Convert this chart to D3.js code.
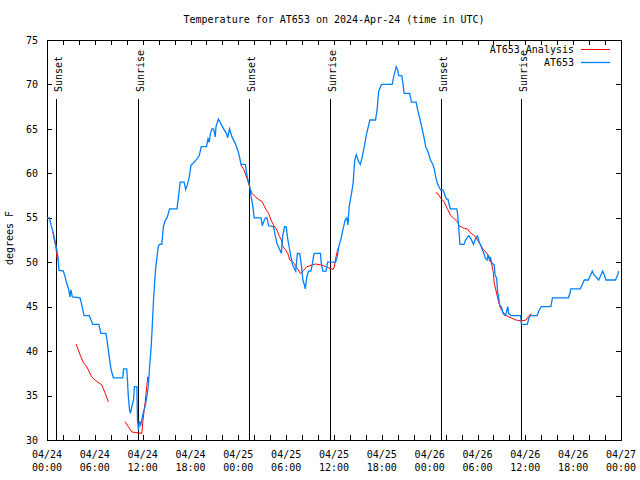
<!DOCTYPE html>
<html>
<head>
<meta charset="utf-8">
<script src="https://cdn.jsdelivr.net/npm/d3@7/dist/d3.min.js"></script>
<style>
  html, body { margin: 0; padding: 0; background: #fff; }
  svg text { font-family: "DejaVu Sans Mono", "Liberation Mono", monospace; font-size: 10px; fill: #000; }
</style>
</head>
<body>
<svg id="chart" width="640" height="480"></svg>
<script>
// ---- data (hours since 2024-04-24 00:00 UTC) ----
const stationHours = [0.0,0.3,0.5,0.7,0.92,1.2,1.4,1.5,2.05,2.26,2.47,2.68,2.89,3.0,3.18,4.15,4.36,4.65,5.3,5.74,6.5,6.75,7.4,7.58,7.8,8.04,8.33,9.5,9.6,10.0,10.1,10.2,10.35,10.47,10.64,10.85,10.97,11.27,11.35,11.47,11.6,11.75,12.1,12.3,12.5,12.7,12.9,13.07,13.2,13.36,13.5,13.6,13.8,13.95,14.1,14.4,14.6,14.8,15.1,15.37,16.3,16.5,16.7,17.2,17.4,17.6,17.85,18.06,18.3,18.8,19.1,19.35,20.0,20.2,20.35,20.5,20.7,20.9,21.1,21.2,21.5,21.8,22.15,22.5,22.65,22.9,23.2,23.6,24.0,24.35,24.9,25.0,25.2,25.4,25.6,25.8,26.0,26.85,27.0,27.2,27.4,27.6,27.8,28.4,28.5,28.65,28.85,29.1,29.4,29.56,29.8,30.0,30.2,30.4,30.6,30.8,31.2,31.4,31.7,31.9,32.1,32.3,32.4,32.6,32.8,33.1,33.3,33.5,34.3,34.4,34.6,35.0,35.2,36.2,36.4,36.6,36.9,37.1,37.4,37.6,37.75,37.9,38.2,38.4,38.6,38.8,39.1,39.3,39.5,39.8,40.05,40.3,40.5,41.2,41.4,41.6,41.9,42.0,43.3,43.5,43.8,44.0,44.1,44.5,44.65,44.8,45.5,45.7,46.3,46.5,46.75,47.0,47.3,47.5,47.8,48.1,48.4,48.6,48.75,48.96,49.2,49.4,49.7,49.9,50.1,50.3,50.4,50.6,51.4,51.5,51.6,51.8,52.3,52.5,52.9,53.2,53.5,53.8,54.0,54.2,54.4,54.6,54.8,55.0,55.2,55.3,55.5,55.6,55.8,56.1,56.2,56.4,56.5,56.7,56.8,57.0,57.2,57.5,57.8,57.9,58.2,59.4,59.5,60.25,60.45,60.6,61.5,61.7,62.0,63.2,63.4,65.4,65.6,65.7,66.9,67.1,67.4,67.9,68.2,68.4,68.6,69.2,69.5,69.7,69.9,70.1,71.3,71.6,71.7];
const stationTemps = [55.0,55.0,54.2,53.6,52.7,51.6,50.4,49.1,49.0,48.4,47.6,47.1,46.1,46.9,46.1,46.0,45.2,44.0,44.0,43.0,43.0,42.0,42.0,40.9,39.4,37.9,37.0,37.0,38.0,38.0,36.6,34.9,33.4,33.0,33.75,34.5,36.0,36.0,32.25,31.1,32.1,31.7,33.2,33.75,34.7,36.0,38.6,40.5,42.75,45.75,47.6,49.1,50.6,51.75,52.0,52.0,54.0,54.6,55.1,56.0,56.0,57.4,59.0,59.0,58.2,58.7,59.6,60.9,61.1,61.6,62.0,63.0,63.0,63.9,63.5,64.5,65.0,65.0,64.1,65.25,66.1,65.6,65.0,64.5,64.0,65.0,64.1,63.4,62.4,61.0,61.0,60.2,59.25,58.7,57.4,56.4,55.0,55.0,54.1,54.6,55.0,55.0,54.1,54.0,53.6,52.9,52.1,51.6,51.0,52.9,54.0,54.0,52.6,51.6,50.6,49.7,49.0,51.0,51.0,49.7,48.0,47.4,47.0,48.4,49.0,49.0,49.9,51.0,51.0,49.9,49.0,49.0,50.0,50.0,50.6,51.75,52.7,53.6,54.75,55.0,54.2,56.25,57.75,58.9,61.5,62.1,61.3,61.0,61.7,63.0,64.3,65.25,66.0,66.0,67.1,69.2,69.9,70.0,70.0,70.9,72.0,71.6,71.0,71.0,70.1,69.0,69.0,68.0,68.0,67.1,66.2,65.25,64.0,63.0,62.4,61.5,61.0,60.4,59.6,58.9,58.4,58.1,58.1,57.55,57.1,57.1,56.6,56.0,56.0,55.5,54.4,52.0,52.0,52.5,53.0,52.6,52.0,52.8,52.95,52.3,51.9,51.4,51.0,50.4,50.25,50.8,50.25,50.6,49.9,49.7,48.6,48.2,46.9,45.75,45.1,45.0,44.25,44.0,45.0,44.25,44.0,44.0,43.0,43.0,43.7,44.0,44.0,44.55,45.0,45.0,46.0,46.0,46.5,47.0,47.0,47.4,48.0,48.0,48.6,49.0,48.6,48.0,48.6,49.0,48.6,48.0,48.0,48.6,49.0];

// analysis series: null marks a gap between segments
const analysisHours = [0.72,0.92,1.1,1.3, null,
  3.64,3.94,4.23,4.56,4.99,5.6,6.24,6.87,7.3,7.7, null,
  9.8,10.2,10.64,11.05,11.47,11.9,12.0,12.2,12.35,12.5,12.65,12.73, null,
  24.3,24.7,25.1,25.4,25.7,26.1,26.5,27.0,27.2,27.5,27.8,28.1,28.4,28.85,29.15,29.4,29.6,29.9,30.2,30.45,30.75,30.95,31.4,31.8,32.2,32.6,33.3,33.7,34.3,34.7,35.2,35.5,35.9,36.05,36.2,36.4,36.6, null,
  48.75,49.0,49.4,49.8,50.2,50.6,51.0,51.5,51.7,52.1,52.4,52.8,53.0,53.5,53.8,54.07,54.4,54.75,55.0,55.35,55.6,55.8,56.0,56.1,56.3,56.5,56.7,56.9,57.3,57.7,58.2,58.8,59.5,60.1,60.4,60.6,60.8];
const analysisTemps = [53.4,52.5,51.75,50.25, null,
  40.8,40.1,39.4,38.7,38.25,37.1,36.6,36.2,35.25,34.3, null,
  32.05,31.5,30.9,30.85,30.8,30.75,31.9,33.4,34.5,36.0,37.1,36.6, null,
  61.0,60.4,59.4,58.5,57.75,57.4,57.1,56.8,56.4,55.9,55.5,54.75,54.2,53.6,52.9,52.5,51.75,51.4,51.0,50.25,50.1,49.9,49.3,48.7,49.1,49.5,49.7,49.8,49.7,49.6,49.4,49.3,49.2,49.5,50.4,51.2,51.75, null,
  57.8,57.75,57.2,56.8,56.05,55.3,54.95,54.55,54.1,53.9,53.8,53.7,53.4,53.05,52.8,52.4,51.9,51.4,51.2,50.8,50.25,49.7,48.75,47.6,46.9,46.1,45.4,44.8,44.25,43.95,43.75,43.5,43.4,43.5,43.9,44.1,44.2];

const sunsetHours = [1.17, 25.32, 49.4];
const sunriseHours = [11.47, 35.5, 59.5];

const yTicks = [30, 35, 40, 45, 50, 55, 60, 65, 70, 75];
const xTickHours = d3.range(0, 73, 2);
const titleText = "Temperature for AT653 on 2024-Apr-24 (time in UTC)";
const yLabelText = "degrees F";
const seriesNames = ["AT653 Analysis", "AT653"];
const seriesColors = ["#ff0000", "#0080ff"];

// ---- chart ----
const start = Date.UTC(2024, 3, 24);
const toDate = h => new Date(start + h * 3600e3);
const L = 47, R = 621, T = 40, B = 440;

const svg = d3.select("#chart");
const x = d3.scaleUtc().domain([toDate(0), toDate(72)]).range([L, R]);
const y = d3.scaleLinear().domain([30, 75]).range([B, T]);

const fmtDate = d3.utcFormat("%m/%d");
const fmtTime = d3.utcFormat("%H:%M");
const xTicks = xTickHours.map(toDate);

const axBottom = svg.append("g").attr("transform", `translate(0,${B})`)
  .call(d3.axisBottom(x).tickValues(xTicks).tickSize(-5).tickFormat(""));
const axTop = svg.append("g").attr("transform", `translate(0,${T})`)
  .call(d3.axisTop(x).tickValues(xTicks).tickSize(-5).tickFormat(""));
const axLeft = svg.append("g").attr("transform", `translate(${L},0)`)
  .call(d3.axisLeft(y).tickValues(yTicks).tickSize(-5).tickPadding(9).tickFormat(d3.format("d")));
const axRight = svg.append("g").attr("transform", `translate(${R},0)`)
  .call(d3.axisRight(y).tickValues(yTicks).tickSize(-5).tickFormat(""));
[axBottom, axTop, axLeft, axRight].forEach(g => {
  g.select(".domain").remove();
  g.selectAll("line").attr("stroke", "#000").attr("shape-rendering", "crispEdges");
  g.selectAll("text").attr("font-family", null).attr("font-size", null);
});

// two-line x labels at 6-hour steps
const labelG = svg.append("g");
xTickHours.filter(h => h % 6 === 0).forEach(h => {
  const d = toDate(h);
  const t = labelG.append("text").attr("text-anchor", "middle")
    .attr("transform", `translate(${x(d)},0)`);
  t.append("tspan").attr("x", 0).attr("y", 457.5).text(fmtDate(d));
  t.append("tspan").attr("x", 0).attr("y", 471).text(fmtTime(d));
});

// frame
svg.append("rect").attr("x", L).attr("y", T).attr("width", R - L).attr("height", B - T)
  .attr("fill", "none").attr("stroke", "#000").attr("stroke-width", 1)
  .attr("shape-rendering", "crispEdges");

// sun lines
const sunEvents = sunsetHours.map(h => ({h, label: "Sunset"}))
  .concat(sunriseHours.map(h => ({h, label: "Sunrise"})));
const sunG = svg.append("g");
sunEvents.forEach(e => {
  const xx = Math.round(x(toDate(e.h))) + 0.5;
  sunG.append("line").attr("x1", xx).attr("x2", xx).attr("y1", 99).attr("y2", B)
    .attr("stroke", "#000").attr("stroke-width", 1);
  sunG.append("text").attr("transform", `translate(${xx + 5.5},92) rotate(-90)`)
    .attr("text-anchor", "start").text(e.label);
});

// lines
const analysisData = analysisHours.map((h, i) => ({h, v: analysisTemps[i]}));
const stationData = stationHours.map((h, i) => ({h, v: stationTemps[i]}));
const line = d3.line()
  .defined(d => d.h !== null && d.v !== null)
  .x(d => x(toDate(d.h))).y(d => y(d.v));

svg.append("path").datum(analysisData).attr("d", line)
  .attr("fill", "none").attr("stroke", seriesColors[0]).attr("stroke-width", 1);
svg.append("path").datum(stationData).attr("d", line)
  .attr("fill", "none").attr("stroke", seriesColors[1]).attr("stroke-width", 1.3);

// legend
const legend = svg.append("g");
seriesNames.forEach((name, i) => {
  const ly = 49.5 + i * 13;
  legend.append("text").attr("x", 574).attr("y", ly + 3.5).attr("text-anchor", "end").text(name);
  legend.append("line").attr("x1", 581).attr("x2", 610).attr("y1", ly).attr("y2", ly)
    .attr("stroke", seriesColors[i]).attr("stroke-width", i === 0 ? 1 : 1.3);
});

// title and y label
svg.append("text").attr("x", (L + R) / 2).attr("y", 23).attr("text-anchor", "middle").text(titleText);
svg.append("text").attr("transform", "translate(13,238) rotate(-90)").attr("text-anchor", "middle").text(yLabelText);
</script>
</body>
</html>
